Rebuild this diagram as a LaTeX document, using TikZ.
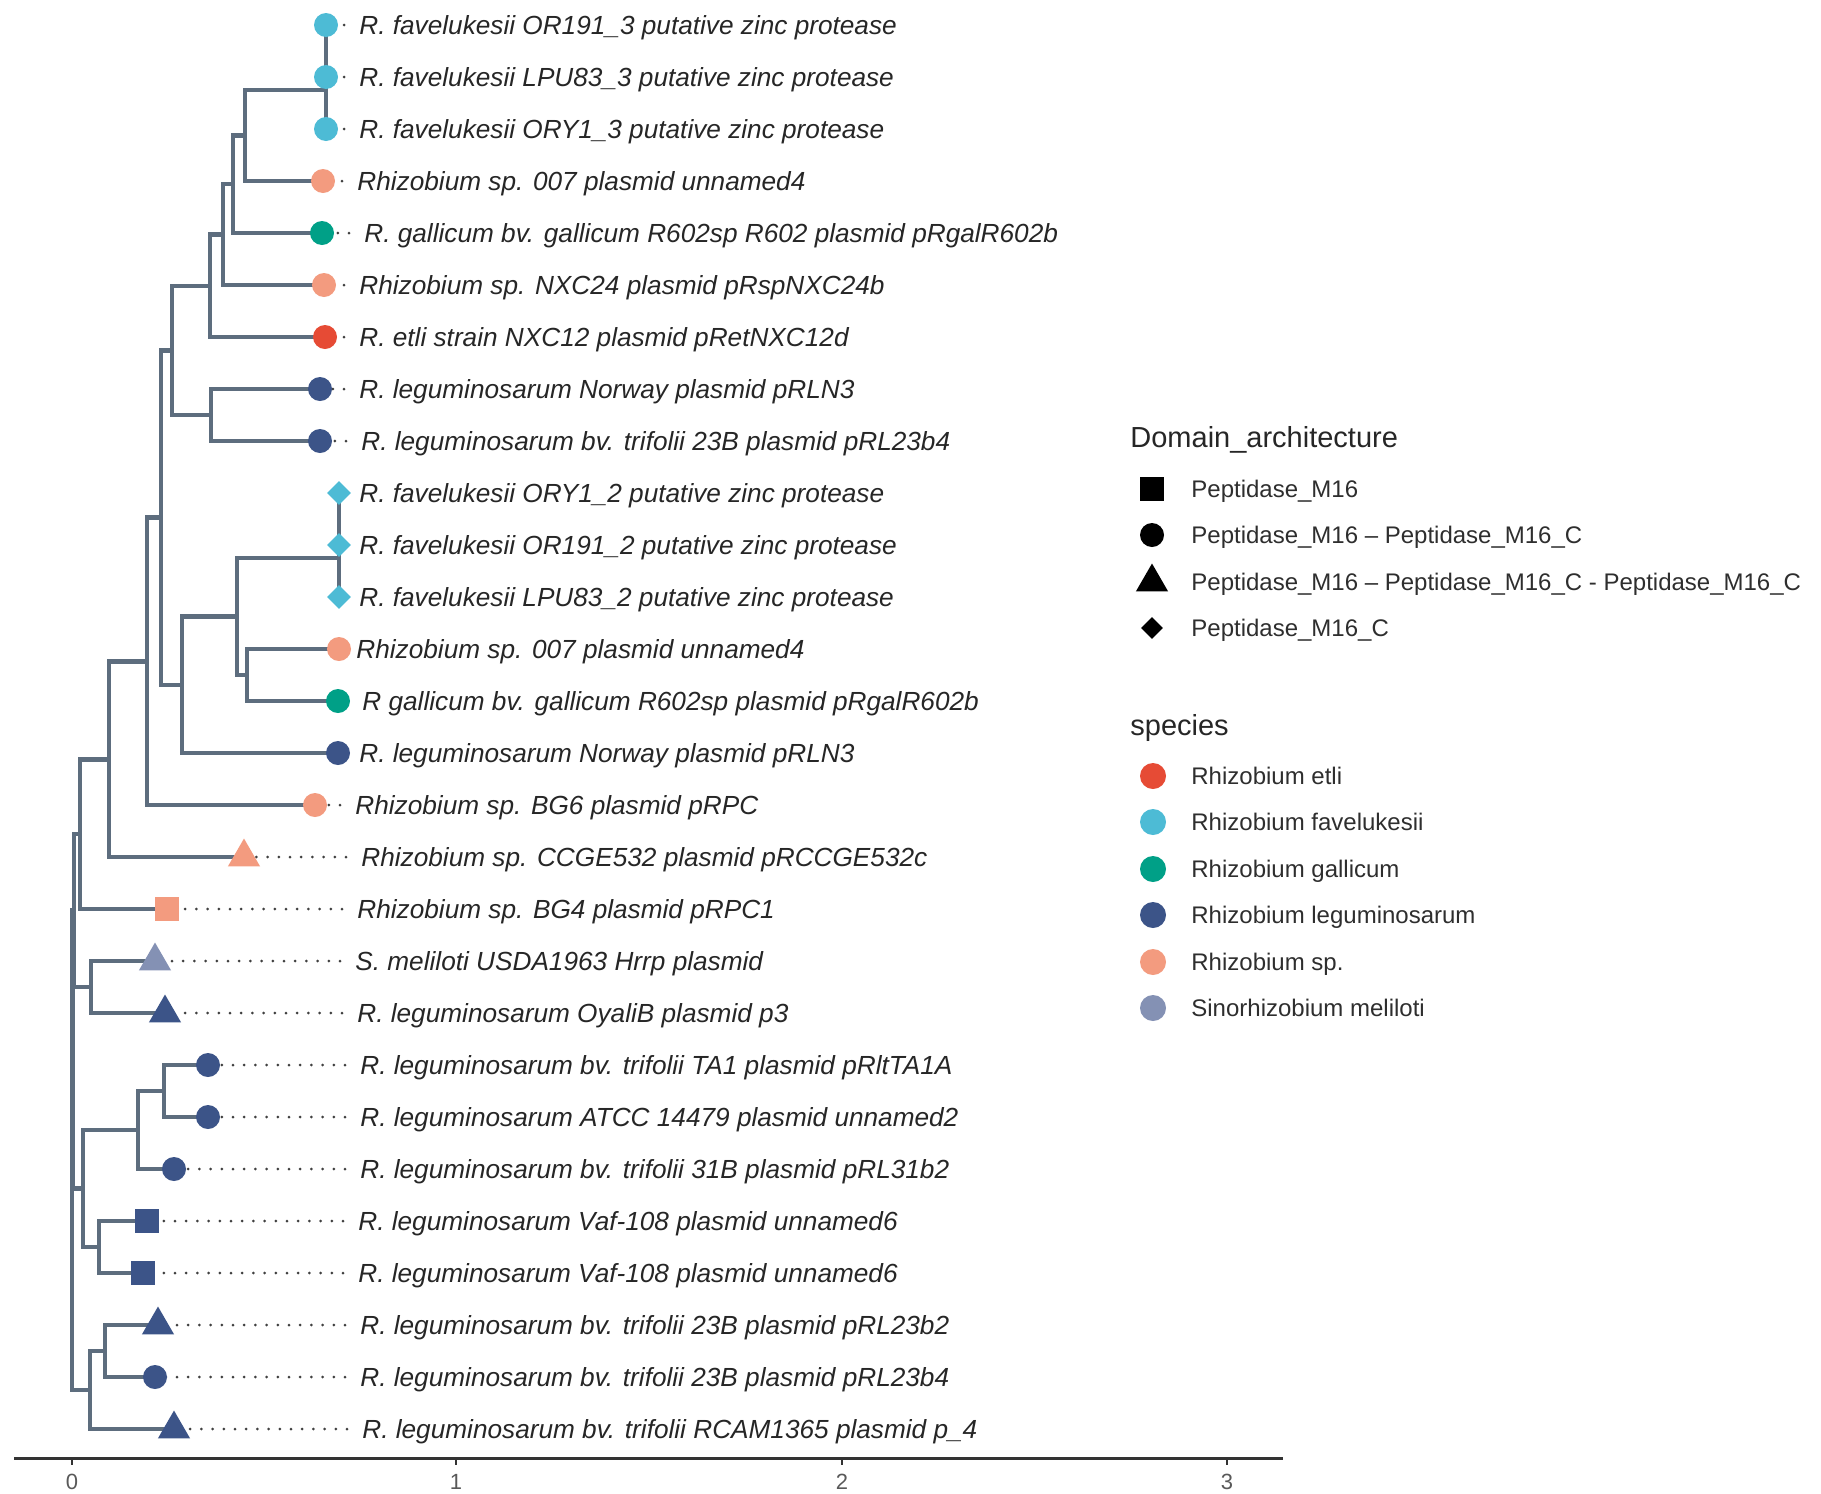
\documentclass[tikz,border=0pt]{standalone}
\usepackage{fontspec}
\setmainfont{Liberation Sans}
\usetikzlibrary{shapes.geometric}

\definecolor{npgred}{HTML}{E64B35}
\definecolor{npgcyan}{HTML}{4DBBD5}
\definecolor{npgteal}{HTML}{00A087}
\definecolor{npgnavy}{HTML}{3C5488}
\definecolor{npgsalmon}{HTML}{F39B7F}
\definecolor{npglilac}{HTML}{8491B4}
\definecolor{branchgray}{HTML}{5D6D7E}

\begin{document}
\begin{tikzpicture}[x=0.5pt, y=-0.5pt]
    \tikzset{branch/.style = {draw=branchgray, line width=2.3pt}}
    \tikzset{leader/.style = {draw=black!75, line width=1.5pt, line cap=round, dash pattern=on 0pt off 5.6pt}}
    \tikzset{tiplab/.style = {anchor=base west, inner xsep=7.5pt, inner ysep=0pt, font=\fontsize{13.1}{15}\selectfont\itshape, text=black!85}}
    \tikzset{tipdot/.style = {shape=circle, fill=#1, inner sep=0pt, minimum size=12pt}}
    \tikzset{tipbox/.style = {shape=rectangle, fill=#1, inner sep=0pt, minimum size=12pt}}
    \tikzset{tiptri/.style = {shape=regular polygon, regular polygon sides=3, fill=#1, inner sep=0pt, minimum size=18.5pt}}
    \tikzset{tipkite/.style = {shape=diamond, fill=#1, inner sep=0pt, minimum size=12pt}}
    \tikzset{legtitle/.style = {anchor=base west, inner sep=0pt, font=\fontsize{14.5}{17}\selectfont, text=black!85}}
    \tikzset{legtext/.style = {anchor=base west, inner sep=0pt, font=\fontsize{12}{14}\selectfont, text=black!82}}
    \tikzset{axisline/.style = {draw=black!80, line width=1.5pt}}

    \useasboundingbox (0,0) rectangle (1821,1494);

    % tips
    \coordinate (t1) at (326,25);
    \coordinate (t2) at (326,77);
    \coordinate (t3) at (326,129);
    \coordinate (t4) at (323,181);
    \coordinate (t5) at (322,233);
    \coordinate (t6) at (324,285);
    \coordinate (t7) at (325,337);
    \coordinate (t8) at (320,389);
    \coordinate (t9) at (320,441);
    \coordinate (t10) at (339,493);
    \coordinate (t11) at (339,545);
    \coordinate (t12) at (339,597);
    \coordinate (t13) at (339,649);
    \coordinate (t14) at (338,701);
    \coordinate (t15) at (338,753);
    \coordinate (t16) at (315,805);
    \coordinate (t17) at (244,857);
    \coordinate (t18) at (167,909);
    \coordinate (t19) at (155,961);
    \coordinate (t20) at (165,1013);
    \coordinate (t21) at (208,1065);
    \coordinate (t22) at (208,1117);
    \coordinate (t23) at (174,1169);
    \coordinate (t24) at (147,1221);
    \coordinate (t25) at (143,1273);
    \coordinate (t26) at (158,1325);
    \coordinate (t27) at (155,1377);
    \coordinate (t28) at (174,1429);

    % inner nodes
    \coordinate (f3a) at (326,51);
    \coordinate (f3) at (326,90);
    \coordinate (nA) at (245,135.5);
    \coordinate (nB) at (233,184);
    \coordinate (nC) at (223,234.5);
    \coordinate (nD) at (210,285.8);
    \coordinate (nE) at (211,415);
    \coordinate (nF) at (172,350.4);
    \coordinate (f2a) at (339,519);
    \coordinate (f2) at (339,558);
    \coordinate (nI) at (247,675);
    \coordinate (nH) at (237,616.5);
    \coordinate (nJ) at (182,684.8);
    \coordinate (nG) at (161,517.6);
    \coordinate (nK) at (147,661.3);
    \coordinate (nL) at (109,759.2);
    \coordinate (nM) at (80,834);
    \coordinate (nP) at (91,987);
    \coordinate (nN) at (74,910.5);
    \coordinate (nQ) at (164,1091);
    \coordinate (nR) at (138,1130);
    \coordinate (nS) at (99,1247);
    \coordinate (nT) at (83,1188.5);
    \coordinate (nW) at (72.5,1049.5);
    \coordinate (nU) at (105,1351);
    \coordinate (nV) at (90,1390);
    \coordinate (root) at (72,1219.8);

    % tip labels
    \node[tiplab] (l1) at (344,34) {R. favelukesii OR191\_3 putative zinc protease};
    \node[tiplab] (l2) at (344,86) {R. favelukesii LPU83\_3 putative zinc protease};
    \node[tiplab] (l3) at (344,138) {R. favelukesii ORY1\_3 putative zinc protease};
    \node[tiplab] (l4) at (342,190) {Rhizobium sp. 007 plasmid unnamed4};
    \node[tiplab] (l5) at (349,242) {R. gallicum bv. gallicum R602sp R602 plasmid pRgalR602b};
    \node[tiplab] (l6) at (344,294) {Rhizobium sp. NXC24 plasmid pRspNXC24b};
    \node[tiplab] (l7) at (344,346) {R. etli strain NXC12 plasmid pRetNXC12d};
    \node[tiplab] (l8) at (344,398) {R. leguminosarum Norway plasmid pRLN3};
    \node[tiplab] (l9) at (346,450) {R. leguminosarum bv. trifolii 23B plasmid pRL23b4};
    \node[tiplab] (l10) at (344,502) {R. favelukesii ORY1\_2 putative zinc protease};
    \node[tiplab] (l11) at (344,554) {R. favelukesii OR191\_2 putative zinc protease};
    \node[tiplab] (l12) at (344,606) {R. favelukesii LPU83\_2 putative zinc protease};
    \node[tiplab] (l13) at (341,658) {Rhizobium sp. 007 plasmid unnamed4};
    \node[tiplab] (l14) at (347,710) {R gallicum bv. gallicum R602sp plasmid pRgalR602b};
    \node[tiplab] (l15) at (344,762) {R. leguminosarum Norway plasmid pRLN3};
    \node[tiplab] (l16) at (340,814) {Rhizobium sp. BG6 plasmid pRPC};
    \node[tiplab] (l17) at (346,866) {Rhizobium sp. CCGE532 plasmid pRCCGE532c};
    \node[tiplab] (l18) at (342,918) {Rhizobium sp. BG4 plasmid pRPC1};
    \node[tiplab] (l19) at (340,970) {S. meliloti USDA1963 Hrrp plasmid};
    \node[tiplab] (l20) at (342,1022) {R. leguminosarum OyaliB plasmid p3};
    \node[tiplab] (l21) at (345,1074) {R. leguminosarum bv. trifolii TA1 plasmid pRltTA1A};
    \node[tiplab] (l22) at (345,1126) {R. leguminosarum ATCC 14479 plasmid unnamed2};
    \node[tiplab] (l23) at (345,1178) {R. leguminosarum bv. trifolii 31B plasmid pRL31b2};
    \node[tiplab] (l24) at (343,1230) {R. leguminosarum Vaf-108 plasmid unnamed6};
    \node[tiplab] (l25) at (343,1282) {R. leguminosarum Vaf-108 plasmid unnamed6};
    \node[tiplab] (l26) at (345,1334) {R. leguminosarum bv. trifolii 23B plasmid pRL23b2};
    \node[tiplab] (l27) at (345,1386) {R. leguminosarum bv. trifolii 23B plasmid pRL23b4};
    \node[tiplab] (l28) at (347,1438) {R. leguminosarum bv. trifolii RCAM1365 plasmid p\_4};

    % branches
    \draw[branch] (t1) -| (f3a) |- (t2);
    \draw[branch] (f3a) -| (f3) |- (t3);
    \draw[branch] (f3) -| (nA) |- (t4);
    \draw[branch] (nA) -| (nB) |- (t5);
    \draw[branch] (nB) -| (nC) |- (t6);
    \draw[branch] (nC) -| (nD) |- (t7);
    \draw[branch] (t8) -| (nE) |- (t9);
    \draw[branch] (nD) -| (nF) |- (nE);
    \draw[branch] (t10) -| (f2a) |- (t11);
    \draw[branch] (f2a) -| (f2) |- (t12);
    \draw[branch] (t13) -| (nI) |- (t14);
    \draw[branch] (f2) -| (nH) |- (nI);
    \draw[branch] (nH) -| (nJ) |- (t15);
    \draw[branch] (nF) -| (nG) |- (nJ);
    \draw[branch] (nG) -| (nK) |- (t16);
    \draw[branch] (nK) -| (nL) |- (t17);
    \draw[branch] (nL) -| (nM) |- (t18);
    \draw[branch] (t19) -| (nP) |- (t20);
    \draw[branch] (nM) -| (nN) |- (nP);
    \draw[branch] (t21) -| (nQ) |- (t22);
    \draw[branch] (nQ) -| (nR) |- (t23);
    \draw[branch] (t24) -| (nS) |- (t25);
    \draw[branch] (nR) -| (nT) |- (nS);
    \draw[branch] (nN) -| (nW) |- (nT);
    \draw[branch] (t26) -| (nU) |- (t27);
    \draw[branch] (nU) -| (nV) |- (t28);
    \draw[branch] (nW) -| (root) |- (nV);

    % leaders
    \draw[leader] (t1 -| l1.west) -- (t1);
    \draw[leader] (t2 -| l2.west) -- (t2);
    \draw[leader] (t3 -| l3.west) -- (t3);
    \draw[leader] (t4 -| l4.west) -- (t4);
    \draw[leader] (t5 -| l5.west) -- (t5);
    \draw[leader] (t6 -| l6.west) -- (t6);
    \draw[leader] (t7 -| l7.west) -- (t7);
    \draw[leader] (t8 -| l8.west) -- (t8);
    \draw[leader] (t9 -| l9.west) -- (t9);
    \draw[leader] (t16 -| l16.west) -- (t16);
    \draw[leader] (t17 -| l17.west) -- (t17);
    \draw[leader] (t18 -| l18.west) -- (t18);
    \draw[leader] (t19 -| l19.west) -- (t19);
    \draw[leader] (t20 -| l20.west) -- (t20);
    \draw[leader] (t21 -| l21.west) -- (t21);
    \draw[leader] (t22 -| l22.west) -- (t22);
    \draw[leader] (t23 -| l23.west) -- (t23);
    \draw[leader] (t24 -| l24.west) -- (t24);
    \draw[leader] (t25 -| l25.west) -- (t25);
    \draw[leader] (t26 -| l26.west) -- (t26);
    \draw[leader] (t27 -| l27.west) -- (t27);
    \draw[leader] (t28 -| l28.west) -- (t28);

    % markers
    \node[tipdot=npgcyan] (m1) at (t1) {};
    \node[tipdot=npgcyan] (m2) at (t2) {};
    \node[tipdot=npgcyan] (m3) at (t3) {};
    \node[tipdot=npgsalmon] (m4) at (t4) {};
    \node[tipdot=npgteal] (m5) at (t5) {};
    \node[tipdot=npgsalmon] (m6) at (t6) {};
    \node[tipdot=npgred] (m7) at (t7) {};
    \node[tipdot=npgnavy] (m8) at (t8) {};
    \node[tipdot=npgnavy] (m9) at (t9) {};
    \node[tipkite=npgcyan] (m10) at (t10) {};
    \node[tipkite=npgcyan] (m11) at (t11) {};
    \node[tipkite=npgcyan] (m12) at (t12) {};
    \node[tipdot=npgsalmon] (m13) at (t13) {};
    \node[tipdot=npgteal] (m14) at (t14) {};
    \node[tipdot=npgnavy] (m15) at (t15) {};
    \node[tipdot=npgsalmon] (m16) at (t16) {};
    \node[tiptri=npgsalmon] (m17) at (t17) {};
    \node[tipbox=npgsalmon] (m18) at (t18) {};
    \node[tiptri=npglilac] (m19) at (t19) {};
    \node[tiptri=npgnavy] (m20) at (t20) {};
    \node[tipdot=npgnavy] (m21) at (t21) {};
    \node[tipdot=npgnavy] (m22) at (t22) {};
    \node[tipdot=npgnavy] (m23) at (t23) {};
    \node[tipbox=npgnavy] (m24) at (t24) {};
    \node[tipbox=npgnavy] (m25) at (t25) {};
    \node[tiptri=npgnavy] (m26) at (t26) {};
    \node[tipdot=npgnavy] (m27) at (t27) {};
    \node[tiptri=npgnavy] (m28) at (t28) {};

    % axis
    \coordinate (axl) at (14,1458);
    \coordinate (axr) at (1283,1458);
    \draw[axisline] (axl) -- (axr);
    \foreach \v/\px in {0/72, 1/456, 2/842, 3/1227} {
        \coordinate (tick\v) at (\px,1458);
        \draw[axisline, line width=1pt] (tick\v) -- ++(0,7) node[below, inner sep=0pt, yshift=-4pt, font=\fontsize{11}{13}\selectfont, text=black!65] (ticklab\v) {\v};
    }

    % legend: domain architecture
    \node[legtitle] (domtitle) at (1130,447) {Domain\_architecture};
    \node[tipbox=black] (dk1) at (1152,489) {};
    \node[tipdot=black] (dk2) at (1152,535) {};
    \node[tiptri=black] (dk3) at (1152,582) {};
    \node[tipkite=black, minimum size=11pt] (dk4) at (1152,628) {};
    \node[legtext] (dt1) at (1191,497.5) {Peptidase\_M16};
    \node[legtext] (dt2) at (1191,543.5) {Peptidase\_M16 -- Peptidase\_M16\_C};
    \node[legtext] (dt3) at (1191,590.5) {Peptidase\_M16 -- Peptidase\_M16\_C - Peptidase\_M16\_C};
    \node[legtext] (dt4) at (1191,636.5) {Peptidase\_M16\_C};

    % legend: species
    \node[legtitle] (sptitle) at (1130,735) {species};
    \node[tipdot=npgred, minimum size=13pt] (sk1) at (1153,776) {};
    \node[tipdot=npgcyan, minimum size=13pt] (sk2) at (1153,822) {};
    \node[tipdot=npgteal, minimum size=13pt] (sk3) at (1153,869) {};
    \node[tipdot=npgnavy, minimum size=13pt] (sk4) at (1153,915) {};
    \node[tipdot=npgsalmon, minimum size=13pt] (sk5) at (1153,962) {};
    \node[tipdot=npglilac, minimum size=13pt] (sk6) at (1153,1008) {};
    \node[legtext] (st1) at (1191,784.5) {Rhizobium etli};
    \node[legtext] (st2) at (1191,830.5) {Rhizobium favelukesii};
    \node[legtext] (st3) at (1191,877.5) {Rhizobium gallicum};
    \node[legtext] (st4) at (1191,923.5) {Rhizobium leguminosarum};
    \node[legtext] (st5) at (1191,970.5) {Rhizobium sp.};
    \node[legtext] (st6) at (1191,1016.5) {Sinorhizobium meliloti};
\end{tikzpicture}
\end{document}
